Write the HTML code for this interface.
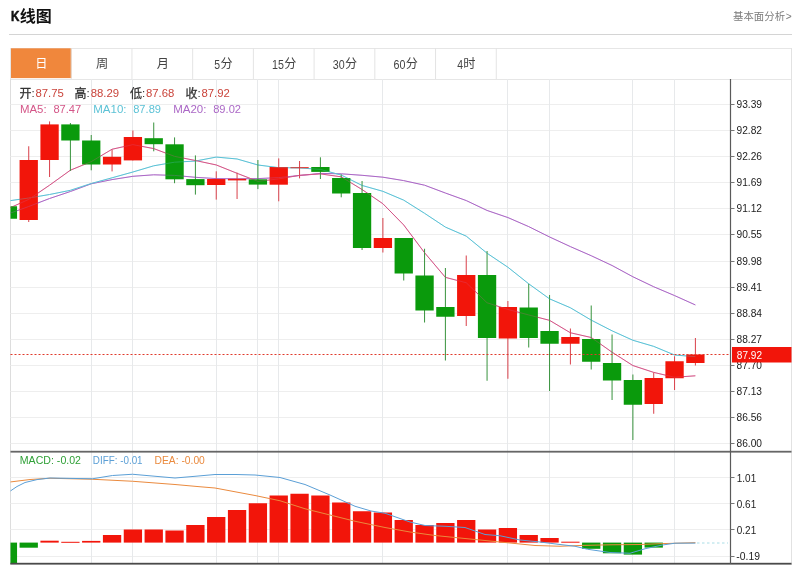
<!DOCTYPE html>
<html><head><meta charset="utf-8"><title>K</title>
<style>html,body{margin:0;padding:0;background:#fff;}body{width:800px;height:565px;overflow:hidden;font-family:"Liberation Sans",sans-serif;}svg{display:block;will-change:transform;}</style>
</head><body>
<svg width="800" height="565" viewBox="0 0 800 565" font-family="'Liberation Sans', sans-serif">
<defs><clipPath id="cp"><rect x="10.5" y="79" width="720.0" height="486"/></clipPath></defs>
<title>K线图</title><desc>K线图 基本面分析 日 周 月 5分 15分 30分 60分 4时 开:87.75 高:88.29 低:87.68 收:87.92</desc>
<rect width="800" height="565" fill="#ffffff"/>
<g transform="translate(11.0 20.7) scale(0.78 1)"><text x="0.00" y="0.00" font-size="15.00" fill="#111111" text-anchor="start" font-weight="bold" stroke="#111111" stroke-width="0.55">K</text></g>
<text x="19.80" y="21.90" font-size="16" fill="#111111" font-weight="bold" font-family="'Liberation Sans', 'Noto Sans CJK SC', sans-serif">线图</text>
<text x="733.10" y="19.50" font-size="10.4" fill="#7c7c7c" font-family="'Liberation Sans', 'Noto Sans CJK SC', sans-serif">基本面分析</text>
<text x="785.80" y="19.80" font-size="10.20" fill="#7c7c7c" text-anchor="start" font-weight="normal">&gt;</text>
<rect x="9" y="34" width="783" height="1" fill="#d4d4d4"/>
<rect x="10.5" y="48.5" width="781" height="31" fill="#ffffff" stroke="#e6e6e6" stroke-width="1"/>
<rect x="11" y="48.3" width="60.6" height="29.8" fill="#f0873c"/>
<rect x="70.72" y="48" width="1" height="31" fill="#e4e4e4"/>
<rect x="131.44" y="48" width="1" height="31" fill="#e4e4e4"/>
<rect x="192.16" y="48" width="1" height="31" fill="#e4e4e4"/>
<rect x="252.88" y="48" width="1" height="31" fill="#e4e4e4"/>
<rect x="313.60" y="48" width="1" height="31" fill="#e4e4e4"/>
<rect x="374.32" y="48" width="1" height="31" fill="#e4e4e4"/>
<rect x="435.04" y="48" width="1" height="31" fill="#e4e4e4"/>
<rect x="495.76" y="48" width="1" height="31" fill="#e4e4e4"/>
<text x="35.26" y="68.40" font-size="12.2" fill="#ffffff" font-family="'Liberation Sans', 'Noto Sans CJK SC', sans-serif">日</text>
<text x="95.98" y="68.40" font-size="12.2" fill="#444444" font-family="'Liberation Sans', 'Noto Sans CJK SC', sans-serif">周</text>
<text x="156.70" y="68.40" font-size="12.2" fill="#444444" font-family="'Liberation Sans', 'Noto Sans CJK SC', sans-serif">月</text>
<text x="214.37" y="68.50" font-size="12.20" fill="#444444" text-anchor="start" font-weight="normal" textLength="5.80" lengthAdjust="spacingAndGlyphs">5</text>
<text x="220.47" y="68.40" font-size="12.2" fill="#444444" font-family="'Liberation Sans', 'Noto Sans CJK SC', sans-serif">分</text>
<text x="272.04" y="68.50" font-size="12.20" fill="#444444" text-anchor="start" font-weight="normal" textLength="11.90" lengthAdjust="spacingAndGlyphs">15</text>
<text x="284.24" y="68.40" font-size="12.2" fill="#444444" font-family="'Liberation Sans', 'Noto Sans CJK SC', sans-serif">分</text>
<text x="332.76" y="68.50" font-size="12.20" fill="#444444" text-anchor="start" font-weight="normal" textLength="11.90" lengthAdjust="spacingAndGlyphs">30</text>
<text x="344.96" y="68.40" font-size="12.2" fill="#444444" font-family="'Liberation Sans', 'Noto Sans CJK SC', sans-serif">分</text>
<text x="393.48" y="68.50" font-size="12.20" fill="#444444" text-anchor="start" font-weight="normal" textLength="11.90" lengthAdjust="spacingAndGlyphs">60</text>
<text x="405.68" y="68.40" font-size="12.2" fill="#444444" font-family="'Liberation Sans', 'Noto Sans CJK SC', sans-serif">分</text>
<text x="457.25" y="68.50" font-size="12.20" fill="#444444" text-anchor="start" font-weight="normal" textLength="5.80" lengthAdjust="spacingAndGlyphs">4</text>
<text x="463.35" y="68.40" font-size="12.2" fill="#444444" font-family="'Liberation Sans', 'Noto Sans CJK SC', sans-serif">时</text>
<rect x="10" y="79" width="1" height="486" fill="#dddddd"/>
<rect x="791" y="48" width="1" height="517" fill="#e2e2e2"/>
<rect x="10.5" y="104" width="720.0" height="1" fill="#eeeeee"/>
<rect x="10.5" y="130" width="720.0" height="1" fill="#eeeeee"/>
<rect x="10.5" y="156" width="720.0" height="1" fill="#eeeeee"/>
<rect x="10.5" y="182" width="720.0" height="1" fill="#eeeeee"/>
<rect x="10.5" y="208" width="720.0" height="1" fill="#eeeeee"/>
<rect x="10.5" y="234" width="720.0" height="1" fill="#eeeeee"/>
<rect x="10.5" y="261" width="720.0" height="1" fill="#eeeeee"/>
<rect x="10.5" y="287" width="720.0" height="1" fill="#eeeeee"/>
<rect x="10.5" y="313" width="720.0" height="1" fill="#eeeeee"/>
<rect x="10.5" y="339" width="720.0" height="1" fill="#eeeeee"/>
<rect x="10.5" y="365" width="720.0" height="1" fill="#eeeeee"/>
<rect x="10.5" y="391" width="720.0" height="1" fill="#eeeeee"/>
<rect x="10.5" y="417" width="720.0" height="1" fill="#eeeeee"/>
<rect x="10.5" y="443" width="720.0" height="1" fill="#eeeeee"/>
<rect x="10.5" y="477" width="720.0" height="1" fill="#eeeeee"/>
<rect x="10.5" y="503" width="720.0" height="1" fill="#eeeeee"/>
<rect x="10.5" y="529" width="720.0" height="1" fill="#eeeeee"/>
<rect x="10.5" y="556" width="720.0" height="1" fill="#eeeeee"/>
<rect x="91" y="79" width="1" height="485" fill="#e7e9eb"/>
<rect x="132" y="79" width="1" height="485" fill="#e7e9eb"/>
<rect x="216" y="79" width="1" height="485" fill="#e7e9eb"/>
<rect x="257" y="79" width="1" height="485" fill="#e7e9eb"/>
<rect x="278" y="79" width="1" height="485" fill="#e7e9eb"/>
<rect x="382" y="79" width="1" height="485" fill="#e7e9eb"/>
<rect x="507" y="79" width="1" height="485" fill="#e7e9eb"/>
<rect x="549" y="79" width="1" height="485" fill="#e7e9eb"/>
<rect x="632" y="79" width="1" height="485" fill="#e7e9eb"/>
<rect x="674" y="79" width="1" height="485" fill="#e7e9eb"/>
<text x="19.40" y="97.50" font-size="12" fill="#333333" stroke="#333333" stroke-width="0.26" font-family="'Liberation Sans', 'Noto Sans CJK SC', sans-serif">开</text>
<text x="31.40" y="97.00" font-size="11.50" fill="#333333" text-anchor="start" font-weight="normal">:</text>
<text x="35.50" y="97.00" font-size="11.50" fill="#ca443b" text-anchor="start" font-weight="normal" textLength="28.40" lengthAdjust="spacingAndGlyphs">87.75</text>
<text x="74.60" y="97.50" font-size="12" fill="#333333" stroke="#333333" stroke-width="0.26" font-family="'Liberation Sans', 'Noto Sans CJK SC', sans-serif">高</text>
<text x="86.60" y="97.00" font-size="11.50" fill="#333333" text-anchor="start" font-weight="normal">:</text>
<text x="90.70" y="97.00" font-size="11.50" fill="#ca443b" text-anchor="start" font-weight="normal" textLength="28.40" lengthAdjust="spacingAndGlyphs">88.29</text>
<text x="129.90" y="97.50" font-size="12" fill="#333333" stroke="#333333" stroke-width="0.26" font-family="'Liberation Sans', 'Noto Sans CJK SC', sans-serif">低</text>
<text x="141.90" y="97.00" font-size="11.50" fill="#333333" text-anchor="start" font-weight="normal">:</text>
<text x="146.00" y="97.00" font-size="11.50" fill="#ca443b" text-anchor="start" font-weight="normal" textLength="28.40" lengthAdjust="spacingAndGlyphs">87.68</text>
<text x="185.40" y="97.50" font-size="12" fill="#333333" stroke="#333333" stroke-width="0.26" font-family="'Liberation Sans', 'Noto Sans CJK SC', sans-serif">收</text>
<text x="197.40" y="97.00" font-size="11.50" fill="#333333" text-anchor="start" font-weight="normal">:</text>
<text x="201.50" y="97.00" font-size="11.50" fill="#ca443b" text-anchor="start" font-weight="normal" textLength="28.40" lengthAdjust="spacingAndGlyphs">87.92</text>
<text x="20.00" y="113.40" font-size="11.50" fill="#d45688" text-anchor="start" font-weight="normal" textLength="26.60" lengthAdjust="spacingAndGlyphs">MA5:</text>
<text x="53.40" y="113.40" font-size="11.50" fill="#d45688" text-anchor="start" font-weight="normal" textLength="27.80" lengthAdjust="spacingAndGlyphs">87.47</text>
<text x="93.30" y="113.40" font-size="11.50" fill="#5cc2d6" text-anchor="start" font-weight="normal" textLength="33.20" lengthAdjust="spacingAndGlyphs">MA10:</text>
<text x="133.20" y="113.40" font-size="11.50" fill="#5cc2d6" text-anchor="start" font-weight="normal" textLength="27.80" lengthAdjust="spacingAndGlyphs">87.89</text>
<text x="173.20" y="113.40" font-size="11.50" fill="#ab68c6" text-anchor="start" font-weight="normal" textLength="33.20" lengthAdjust="spacingAndGlyphs">MA20:</text>
<text x="213.20" y="113.40" font-size="11.50" fill="#ab68c6" text-anchor="start" font-weight="normal" textLength="27.80" lengthAdjust="spacingAndGlyphs">89.02</text>
<g clip-path="url(#cp)">
<polyline fill="none" stroke="#ab68c6" stroke-width="1.00" stroke-linejoin="round" points="7.90,214.00 28.73,206.50 49.57,198.50 70.40,191.50 91.23,183.80 112.06,179.60 132.90,176.30 153.73,174.80 174.56,175.40 195.40,177.30 216.23,178.60 237.06,178.80 257.90,178.60 278.73,177.60 299.56,175.50 320.39,173.40 341.23,173.80 362.06,175.30 382.89,177.20 403.73,180.61 424.56,185.19 445.39,193.03 466.23,200.56 487.06,210.44 507.89,217.56 528.72,226.62 549.56,236.96 570.39,246.60 591.22,255.72 612.06,265.49 632.89,276.77 653.72,286.74 674.56,295.57 695.39,304.94"/>
<polyline fill="none" stroke="#5cc2d6" stroke-width="1.00" stroke-linejoin="round" points="7.90,201.00 28.73,198.00 49.57,194.50 70.40,190.30 91.23,183.50 112.06,177.80 132.90,172.00 153.73,165.80 174.56,162.20 195.40,161.06 216.23,157.09 237.06,158.97 257.90,164.99 278.73,167.64 299.56,167.91 320.39,169.42 341.23,175.07 362.06,185.45 382.89,191.32 403.73,200.15 424.56,213.30 445.39,227.09 466.23,236.13 487.06,253.23 507.89,267.22 528.72,283.82 549.56,298.85 570.39,307.75 591.22,320.12 612.06,330.82 632.89,340.25 653.72,346.38 674.56,355.00 695.39,356.65"/>
<polyline fill="none" stroke="#d45688" stroke-width="1.00" stroke-linejoin="round" points="7.90,208.80 28.73,199.40 49.57,185.20 70.40,170.20 91.23,161.63 112.06,149.24 132.90,144.64 153.73,148.60 174.56,156.36 195.40,160.50 216.23,164.94 237.06,173.30 257.90,181.38 278.73,178.92 299.56,175.32 320.39,173.90 341.23,176.84 362.06,189.52 382.89,203.72 403.73,224.98 424.56,252.70 445.39,277.35 466.23,282.75 487.06,302.75 507.89,309.45 528.72,314.95 549.56,320.35 570.39,332.75 591.22,337.50 612.06,352.20 632.89,365.55 653.72,372.40 674.56,377.25 695.39,375.80"/>
<rect x="7.40" y="206.25" width="1" height="12.50" fill="#38933d"/>
<rect x="-1.25" y="206.25" width="18.30" height="12.50" fill="#0a9a0c"/>
<rect x="28.23" y="146.25" width="1" height="75.75" fill="#d9404a"/>
<rect x="19.58" y="160.00" width="18.30" height="60.00" fill="#f2150a"/>
<rect x="49.07" y="121.40" width="1" height="55.60" fill="#d9404a"/>
<rect x="40.42" y="124.40" width="18.30" height="35.60" fill="#f2150a"/>
<rect x="69.90" y="123.00" width="1" height="48.00" fill="#38933d"/>
<rect x="61.25" y="124.40" width="18.30" height="16.10" fill="#0a9a0c"/>
<rect x="90.73" y="135.00" width="1" height="35.30" fill="#38933d"/>
<rect x="82.08" y="140.50" width="18.30" height="24.00" fill="#0a9a0c"/>
<rect x="111.56" y="149.50" width="1" height="21.90" fill="#d9404a"/>
<rect x="102.91" y="156.80" width="18.30" height="7.70" fill="#f2150a"/>
<rect x="132.40" y="130.50" width="1" height="29.90" fill="#d9404a"/>
<rect x="123.75" y="137.00" width="18.30" height="23.40" fill="#f2150a"/>
<rect x="153.23" y="122.50" width="1" height="28.80" fill="#38933d"/>
<rect x="144.58" y="138.20" width="18.30" height="6.00" fill="#0a9a0c"/>
<rect x="174.06" y="137.40" width="1" height="45.80" fill="#38933d"/>
<rect x="165.41" y="144.30" width="18.30" height="35.00" fill="#0a9a0c"/>
<rect x="194.90" y="155.40" width="1" height="39.20" fill="#38933d"/>
<rect x="186.25" y="179.10" width="18.30" height="6.10" fill="#0a9a0c"/>
<rect x="215.73" y="171.30" width="1" height="28.30" fill="#d9404a"/>
<rect x="207.08" y="179.00" width="18.30" height="6.00" fill="#f2150a"/>
<rect x="236.56" y="172.60" width="1" height="26.40" fill="#d9404a"/>
<rect x="227.91" y="178.80" width="18.30" height="1.60" fill="#f2150a"/>
<rect x="257.40" y="160.00" width="1" height="29.10" fill="#38933d"/>
<rect x="248.75" y="179.30" width="18.30" height="5.30" fill="#0a9a0c"/>
<rect x="278.23" y="158.40" width="1" height="42.90" fill="#d9404a"/>
<rect x="269.58" y="167.00" width="18.30" height="17.70" fill="#f2150a"/>
<rect x="299.06" y="161.00" width="1" height="17.40" fill="#d9404a"/>
<rect x="290.41" y="167.20" width="18.30" height="1.00" fill="#f2150a"/>
<rect x="319.89" y="157.30" width="1" height="21.70" fill="#38933d"/>
<rect x="311.25" y="167.00" width="18.30" height="4.90" fill="#0a9a0c"/>
<rect x="340.73" y="174.30" width="1" height="23.00" fill="#38933d"/>
<rect x="332.08" y="178.00" width="18.30" height="15.50" fill="#0a9a0c"/>
<rect x="361.56" y="181.00" width="1" height="69.00" fill="#38933d"/>
<rect x="352.91" y="193.00" width="18.30" height="55.00" fill="#0a9a0c"/>
<rect x="382.39" y="218.00" width="1" height="34.50" fill="#d9404a"/>
<rect x="373.74" y="238.00" width="18.30" height="10.00" fill="#f2150a"/>
<rect x="403.23" y="238.00" width="1" height="42.50" fill="#38933d"/>
<rect x="394.58" y="238.00" width="18.30" height="35.50" fill="#0a9a0c"/>
<rect x="424.06" y="248.75" width="1" height="73.75" fill="#38933d"/>
<rect x="415.41" y="275.50" width="18.30" height="35.00" fill="#0a9a0c"/>
<rect x="444.89" y="268.00" width="1" height="92.50" fill="#38933d"/>
<rect x="436.24" y="307.00" width="18.30" height="9.75" fill="#0a9a0c"/>
<rect x="465.73" y="255.50" width="1" height="70.50" fill="#d9404a"/>
<rect x="457.08" y="275.00" width="18.30" height="41.00" fill="#f2150a"/>
<rect x="486.56" y="251.00" width="1" height="129.75" fill="#38933d"/>
<rect x="477.91" y="275.00" width="18.30" height="63.00" fill="#0a9a0c"/>
<rect x="507.39" y="301.00" width="1" height="77.75" fill="#d9404a"/>
<rect x="498.74" y="307.00" width="18.30" height="31.50" fill="#f2150a"/>
<rect x="528.22" y="283.75" width="1" height="63.75" fill="#38933d"/>
<rect x="519.57" y="307.50" width="18.30" height="30.50" fill="#0a9a0c"/>
<rect x="549.06" y="295.00" width="1" height="96.00" fill="#38933d"/>
<rect x="540.41" y="331.00" width="18.30" height="12.75" fill="#0a9a0c"/>
<rect x="569.89" y="328.50" width="1" height="36.00" fill="#d9404a"/>
<rect x="561.24" y="337.00" width="18.30" height="6.75" fill="#f2150a"/>
<rect x="590.72" y="305.50" width="1" height="64.00" fill="#38933d"/>
<rect x="582.07" y="339.00" width="18.30" height="22.75" fill="#0a9a0c"/>
<rect x="611.56" y="334.50" width="1" height="65.50" fill="#38933d"/>
<rect x="602.91" y="363.00" width="18.30" height="17.50" fill="#0a9a0c"/>
<rect x="632.39" y="374.50" width="1" height="65.50" fill="#38933d"/>
<rect x="623.74" y="380.00" width="18.30" height="24.75" fill="#0a9a0c"/>
<rect x="653.22" y="372.50" width="1" height="41.25" fill="#d9404a"/>
<rect x="644.57" y="378.00" width="18.30" height="26.00" fill="#f2150a"/>
<rect x="674.06" y="356.25" width="1" height="33.75" fill="#d9404a"/>
<rect x="665.41" y="361.25" width="18.30" height="17.00" fill="#f2150a"/>
<rect x="694.89" y="338.00" width="1" height="27.50" fill="#d9404a"/>
<rect x="686.24" y="354.50" width="18.30" height="8.50" fill="#f2150a"/>
<g opacity="0.3"><polyline fill="none" stroke="#ab68c6" stroke-width="1.00" stroke-linejoin="round" points="7.90,214.00 28.73,206.50 49.57,198.50 70.40,191.50 91.23,183.80 112.06,179.60 132.90,176.30 153.73,174.80 174.56,175.40 195.40,177.30 216.23,178.60 237.06,178.80 257.90,178.60 278.73,177.60 299.56,175.50 320.39,173.40 341.23,173.80 362.06,175.30 382.89,177.20 403.73,180.61 424.56,185.19 445.39,193.03 466.23,200.56 487.06,210.44 507.89,217.56 528.72,226.62 549.56,236.96 570.39,246.60 591.22,255.72 612.06,265.49 632.89,276.77 653.72,286.74 674.56,295.57 695.39,304.94"/><polyline fill="none" stroke="#5cc2d6" stroke-width="1.00" stroke-linejoin="round" points="7.90,201.00 28.73,198.00 49.57,194.50 70.40,190.30 91.23,183.50 112.06,177.80 132.90,172.00 153.73,165.80 174.56,162.20 195.40,161.06 216.23,157.09 237.06,158.97 257.90,164.99 278.73,167.64 299.56,167.91 320.39,169.42 341.23,175.07 362.06,185.45 382.89,191.32 403.73,200.15 424.56,213.30 445.39,227.09 466.23,236.13 487.06,253.23 507.89,267.22 528.72,283.82 549.56,298.85 570.39,307.75 591.22,320.12 612.06,330.82 632.89,340.25 653.72,346.38 674.56,355.00 695.39,356.65"/><polyline fill="none" stroke="#d45688" stroke-width="1.00" stroke-linejoin="round" points="7.90,208.80 28.73,199.40 49.57,185.20 70.40,170.20 91.23,161.63 112.06,149.24 132.90,144.64 153.73,148.60 174.56,156.36 195.40,160.50 216.23,164.94 237.06,173.30 257.90,181.38 278.73,178.92 299.56,175.32 320.39,173.90 341.23,176.84 362.06,189.52 382.89,203.72 403.73,224.98 424.56,252.70 445.39,277.35 466.23,282.75 487.06,302.75 507.89,309.45 528.72,314.95 549.56,320.35 570.39,332.75 591.22,337.50 612.06,352.20 632.89,365.55 653.72,372.40 674.56,377.25 695.39,375.80"/></g>
<rect x="-1.25" y="542.60" width="18.30" height="21.40" fill="#0a9a0c"/>
<rect x="19.58" y="542.60" width="18.30" height="5.10" fill="#0a9a0c"/>
<rect x="40.42" y="540.70" width="18.30" height="1.90" fill="#f2150a"/>
<rect x="61.25" y="541.80" width="18.30" height="1.00" fill="#f2150a"/>
<rect x="82.08" y="540.90" width="18.30" height="1.70" fill="#f2150a"/>
<rect x="102.91" y="535.00" width="18.30" height="7.60" fill="#f2150a"/>
<rect x="123.75" y="529.50" width="18.30" height="13.10" fill="#f2150a"/>
<rect x="144.58" y="529.50" width="18.30" height="13.10" fill="#f2150a"/>
<rect x="165.41" y="530.50" width="18.30" height="12.10" fill="#f2150a"/>
<rect x="186.25" y="525.00" width="18.30" height="17.60" fill="#f2150a"/>
<rect x="207.08" y="517.00" width="18.30" height="25.60" fill="#f2150a"/>
<rect x="227.91" y="510.00" width="18.30" height="32.60" fill="#f2150a"/>
<rect x="248.75" y="503.25" width="18.30" height="39.35" fill="#f2150a"/>
<rect x="269.58" y="495.50" width="18.30" height="47.10" fill="#f2150a"/>
<rect x="290.41" y="493.75" width="18.30" height="48.85" fill="#f2150a"/>
<rect x="311.25" y="495.50" width="18.30" height="47.10" fill="#f2150a"/>
<rect x="332.08" y="502.50" width="18.30" height="40.10" fill="#f2150a"/>
<rect x="352.91" y="511.25" width="18.30" height="31.35" fill="#f2150a"/>
<rect x="373.74" y="512.50" width="18.30" height="30.10" fill="#f2150a"/>
<rect x="394.58" y="520.00" width="18.30" height="22.60" fill="#f2150a"/>
<rect x="415.41" y="525.00" width="18.30" height="17.60" fill="#f2150a"/>
<rect x="436.24" y="523.00" width="18.30" height="19.60" fill="#f2150a"/>
<rect x="457.08" y="520.00" width="18.30" height="22.60" fill="#f2150a"/>
<rect x="477.91" y="529.50" width="18.30" height="13.10" fill="#f2150a"/>
<rect x="498.74" y="528.00" width="18.30" height="14.60" fill="#f2150a"/>
<rect x="519.57" y="535.00" width="18.30" height="7.60" fill="#f2150a"/>
<rect x="540.41" y="538.00" width="18.30" height="4.60" fill="#f2150a"/>
<rect x="561.24" y="541.70" width="18.30" height="1.00" fill="#f2150a"/>
<rect x="582.07" y="542.60" width="18.30" height="6.20" fill="#0a9a0c"/>
<rect x="602.91" y="542.60" width="18.30" height="10.70" fill="#0a9a0c"/>
<rect x="623.74" y="542.60" width="18.30" height="12.00" fill="#0a9a0c"/>
<rect x="644.57" y="542.60" width="18.30" height="5.00" fill="#0a9a0c"/>
<polyline fill="none" stroke="#ea8a3e" stroke-width="1.00" stroke-linejoin="round" points="10.00,482.00 30.00,479.50 50.00,478.25 92.50,479.25 132.50,481.25 175.00,484.50 200.00,486.75 215.00,488.00 255.00,495.50 280.00,500.75 305.00,508.75 330.00,515.00 355.00,521.25 385.00,527.50 410.00,532.00 435.00,535.50 460.00,538.00 485.00,540.50 510.00,543.00 535.00,545.50 560.00,546.25 582.50,545.40 610.00,544.80 640.00,544.50 662.50,543.60 695.40,542.70"/>
<polyline fill="none" stroke="#5b9fd6" stroke-width="1.00" stroke-linejoin="round" points="10.00,491.25 17.00,486.50 25.00,482.50 37.00,479.60 50.00,478.00 70.00,478.40 92.50,478.75 112.50,475.50 132.50,474.25 155.00,476.25 175.00,478.00 195.00,476.30 215.00,474.50 236.00,474.50 255.00,475.00 280.00,477.50 305.00,484.50 330.00,495.00 355.00,506.25 371.00,511.00 385.00,513.25 410.00,522.00 425.00,525.50 445.00,526.25 465.00,527.50 485.00,534.50 500.00,535.75 520.00,540.00 540.00,542.00 560.00,544.50 575.00,546.25 587.50,549.25 610.00,552.50 630.00,553.25 645.00,548.75 662.50,545.00 675.00,543.20 695.40,543.10"/>
</g>
<line x1="10.5" y1="354.5" x2="730.5" y2="354.5" stroke="#e0392b" stroke-width="1" stroke-dasharray="2 2"/>
<line x1="697" y1="543" x2="728" y2="543" stroke="#a9dde6" stroke-width="1" stroke-dasharray="2.5 2.5"/>
<rect x="10.5" y="450.8" width="781" height="1.8" fill="#666666"/>
<rect x="10.5" y="562.8" width="781" height="1.8" fill="#4a4a4a"/>
<rect x="729.9" y="79" width="1.2" height="485" fill="#5a5a5a"/>
<rect x="730.5" y="104" width="4" height="1" fill="#777777"/>
<text x="736.50" y="108.00" font-size="10.50" fill="#222222" text-anchor="start" font-weight="normal" textLength="25.50" lengthAdjust="spacingAndGlyphs">93.39</text>
<rect x="730.5" y="130" width="4" height="1" fill="#777777"/>
<text x="736.50" y="134.00" font-size="10.50" fill="#222222" text-anchor="start" font-weight="normal" textLength="25.50" lengthAdjust="spacingAndGlyphs">92.82</text>
<rect x="730.5" y="156" width="4" height="1" fill="#777777"/>
<text x="736.50" y="160.00" font-size="10.50" fill="#222222" text-anchor="start" font-weight="normal" textLength="25.50" lengthAdjust="spacingAndGlyphs">92.26</text>
<rect x="730.5" y="182" width="4" height="1" fill="#777777"/>
<text x="736.50" y="186.00" font-size="10.50" fill="#222222" text-anchor="start" font-weight="normal" textLength="25.50" lengthAdjust="spacingAndGlyphs">91.69</text>
<rect x="730.5" y="208" width="4" height="1" fill="#777777"/>
<text x="736.50" y="212.00" font-size="10.50" fill="#222222" text-anchor="start" font-weight="normal" textLength="25.50" lengthAdjust="spacingAndGlyphs">91.12</text>
<rect x="730.5" y="234" width="4" height="1" fill="#777777"/>
<text x="736.50" y="238.00" font-size="10.50" fill="#222222" text-anchor="start" font-weight="normal" textLength="25.50" lengthAdjust="spacingAndGlyphs">90.55</text>
<rect x="730.5" y="261" width="4" height="1" fill="#777777"/>
<text x="736.50" y="265.00" font-size="10.50" fill="#222222" text-anchor="start" font-weight="normal" textLength="25.50" lengthAdjust="spacingAndGlyphs">89.98</text>
<rect x="730.5" y="287" width="4" height="1" fill="#777777"/>
<text x="736.50" y="291.00" font-size="10.50" fill="#222222" text-anchor="start" font-weight="normal" textLength="25.50" lengthAdjust="spacingAndGlyphs">89.41</text>
<rect x="730.5" y="313" width="4" height="1" fill="#777777"/>
<text x="736.50" y="317.00" font-size="10.50" fill="#222222" text-anchor="start" font-weight="normal" textLength="25.50" lengthAdjust="spacingAndGlyphs">88.84</text>
<rect x="730.5" y="339" width="4" height="1" fill="#777777"/>
<text x="736.50" y="343.00" font-size="10.50" fill="#222222" text-anchor="start" font-weight="normal" textLength="25.50" lengthAdjust="spacingAndGlyphs">88.27</text>
<rect x="730.5" y="365" width="4" height="1" fill="#777777"/>
<text x="736.50" y="369.00" font-size="10.50" fill="#222222" text-anchor="start" font-weight="normal" textLength="25.50" lengthAdjust="spacingAndGlyphs">87.70</text>
<rect x="730.5" y="391" width="4" height="1" fill="#777777"/>
<text x="736.50" y="395.00" font-size="10.50" fill="#222222" text-anchor="start" font-weight="normal" textLength="25.50" lengthAdjust="spacingAndGlyphs">87.13</text>
<rect x="730.5" y="417" width="4" height="1" fill="#777777"/>
<text x="736.50" y="421.00" font-size="10.50" fill="#222222" text-anchor="start" font-weight="normal" textLength="25.50" lengthAdjust="spacingAndGlyphs">86.56</text>
<rect x="730.5" y="443" width="4" height="1" fill="#777777"/>
<text x="736.50" y="447.00" font-size="10.50" fill="#222222" text-anchor="start" font-weight="normal" textLength="25.50" lengthAdjust="spacingAndGlyphs">86.00</text>
<rect x="730.5" y="477" width="4" height="1" fill="#777777"/>
<text x="736.80" y="481.60" font-size="10.50" fill="#222222" text-anchor="start" font-weight="normal" textLength="19.40" lengthAdjust="spacingAndGlyphs">1.01</text>
<rect x="730.5" y="503" width="4" height="1" fill="#777777"/>
<text x="736.80" y="507.60" font-size="10.50" fill="#222222" text-anchor="start" font-weight="normal" textLength="19.40" lengthAdjust="spacingAndGlyphs">0.61</text>
<rect x="730.5" y="529" width="4" height="1" fill="#777777"/>
<text x="736.80" y="533.60" font-size="10.50" fill="#222222" text-anchor="start" font-weight="normal" textLength="19.40" lengthAdjust="spacingAndGlyphs">0.21</text>
<rect x="730.5" y="556" width="4" height="1" fill="#777777"/>
<text x="736.30" y="560.20" font-size="10.50" fill="#222222" text-anchor="start" font-weight="normal" textLength="23.60" lengthAdjust="spacingAndGlyphs">-0.19</text>
<rect x="732" y="347" width="59.5" height="15.5" fill="#f2150a"/>
<text x="736.80" y="358.80" font-size="10.50" fill="#ffffff" text-anchor="start" font-weight="normal" textLength="25.20" lengthAdjust="spacingAndGlyphs">87.92</text>
<text x="19.80" y="464.40" font-size="11.50" fill="#2fa037" text-anchor="start" font-weight="normal" textLength="61.20" lengthAdjust="spacingAndGlyphs">MACD: -0.02</text>
<text x="92.80" y="464.40" font-size="11.50" fill="#5b9fd6" text-anchor="start" font-weight="normal" textLength="49.80" lengthAdjust="spacingAndGlyphs">DIFF: -0.01</text>
<text x="154.60" y="464.40" font-size="11.50" fill="#ea8a3e" text-anchor="start" font-weight="normal" textLength="50.20" lengthAdjust="spacingAndGlyphs">DEA: -0.00</text>
</svg>
</body></html>
